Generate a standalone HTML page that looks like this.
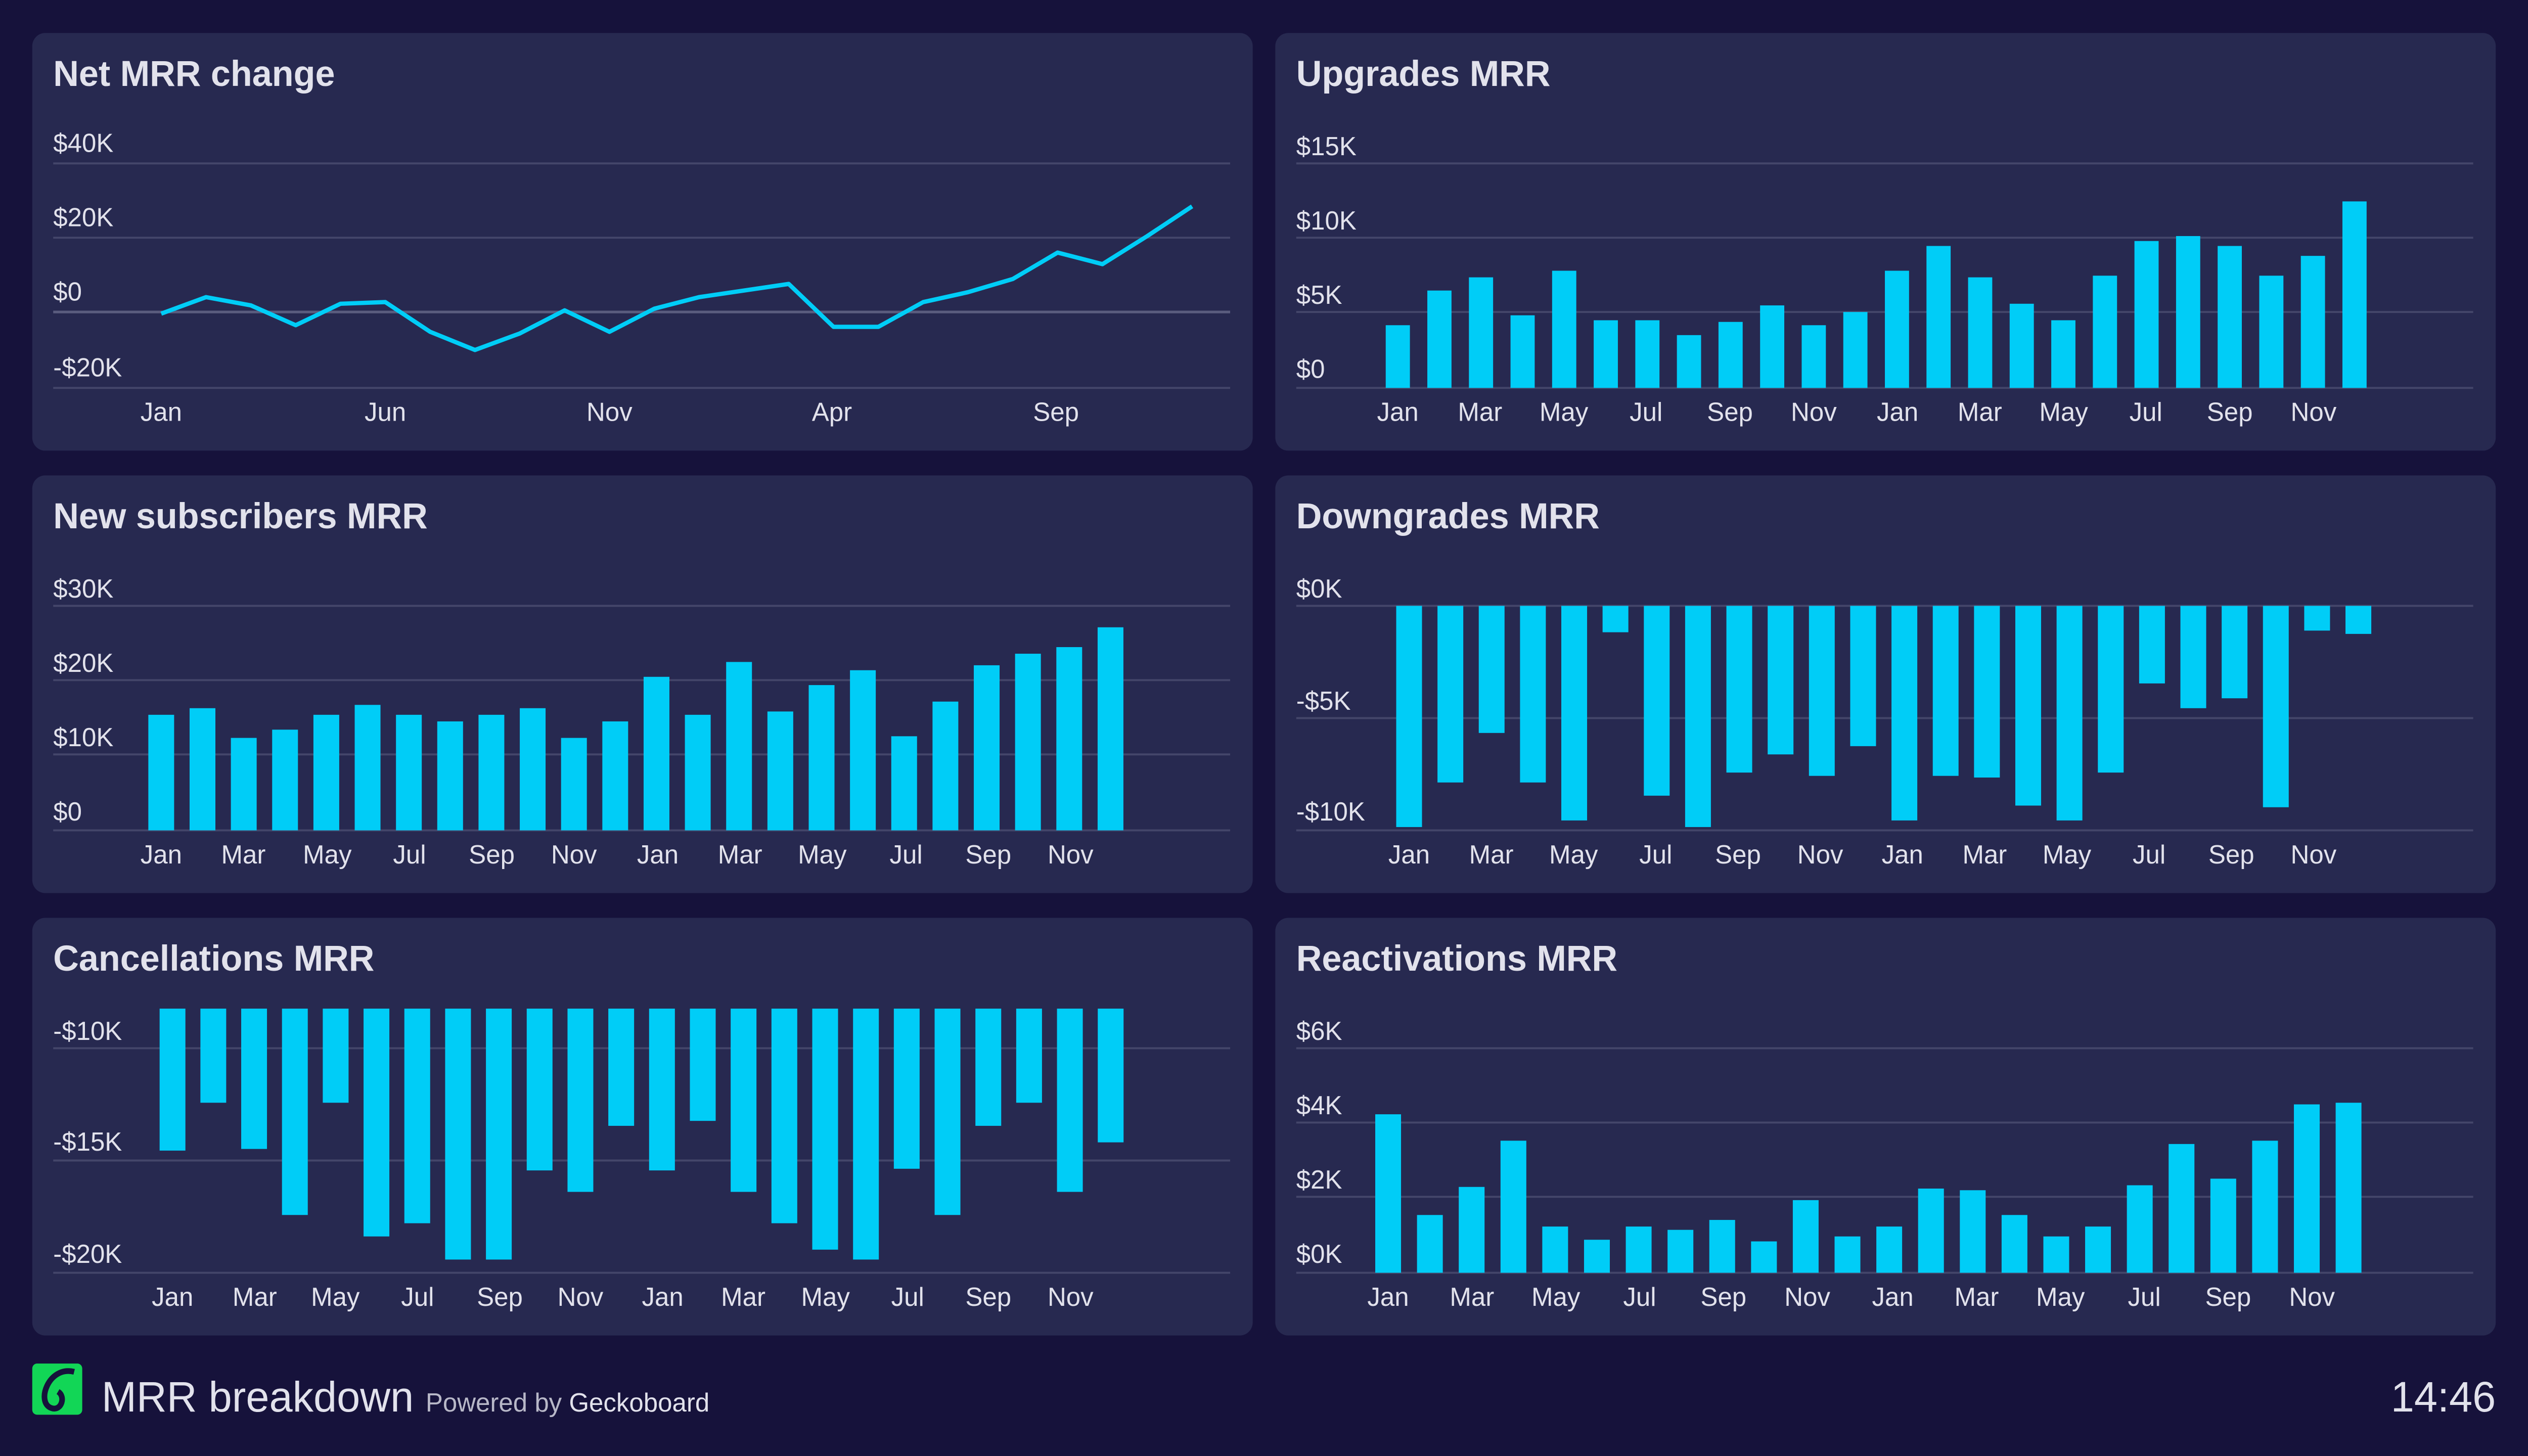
<!DOCTYPE html>
<html><head><meta charset="utf-8"><style>
html,body{margin:0;padding:0;background:#16123b;overflow:hidden;width:100%;height:100%;}
svg{display:block;position:fixed;left:0;top:0;width:100vw;height:100vh}
text{font-family:"Liberation Sans",sans-serif;fill:#e2e2ec}
.t{font-size:22px;font-weight:bold}
.a{font-size:16px}
.g{stroke:#44466a;stroke-width:1.2}
</style></head><body>
<svg id="s" viewBox="0 0 1568 882" preserveAspectRatio="none" xmlns="http://www.w3.org/2000/svg">
<rect width="1568" height="882" fill="#16123b"/>
<g fill="#272950">
<rect x="20" y="20" width="757" height="253" rx="8"/>
<rect x="791" y="20" width="757" height="253" rx="8"/>
<rect x="20" y="288" width="757" height="253" rx="8"/>
<rect x="791" y="288" width="757" height="253" rx="8"/>
<rect x="20" y="556" width="757" height="253" rx="8"/>
<rect x="791" y="556" width="757" height="253" rx="8"/>
</g>
<g class="g">
<line x1="33" x2="763" y1="99" y2="99"/><line x1="33" x2="763" y1="144" y2="144"/><line x1="33" x2="763" y1="235" y2="235"/>
<line x1="33" x2="763" y1="189" y2="189" style="stroke:#5a5c7e;stroke-width:1.6"/>
<line x1="804" x2="1534" y1="99" y2="99"/><line x1="804" x2="1534" y1="144" y2="144"/><line x1="804" x2="1534" y1="189" y2="189"/><line x1="804" x2="1534" y1="235" y2="235"/>
<line x1="33" x2="763" y1="367" y2="367"/><line x1="33" x2="763" y1="412" y2="412"/><line x1="33" x2="763" y1="457" y2="457"/><line x1="33" x2="763" y1="503" y2="503"/>
<line x1="804" x2="1534" y1="367" y2="367"/><line x1="804" x2="1534" y1="435" y2="435"/><line x1="804" x2="1534" y1="503" y2="503"/>
<line x1="33" x2="763" y1="635" y2="635"/><line x1="33" x2="763" y1="703" y2="703"/><line x1="33" x2="763" y1="771" y2="771"/>
<line x1="804" x2="1534" y1="635" y2="635"/><line x1="804" x2="1534" y1="680" y2="680"/><line x1="804" x2="1534" y1="725" y2="725"/><line x1="804" x2="1534" y1="771" y2="771"/>
</g>
<g id="bars" fill="#00cdf7"></g>
<polyline id="ln" fill="none" stroke="#00cdf7" stroke-width="2.6" stroke-linejoin="round"/>
<text class="t" x="33" y="52">Net MRR change</text>
<text class="t" x="804" y="52">Upgrades MRR</text>
<text class="t" x="33" y="320">New subscribers MRR</text>
<text class="t" x="804" y="320">Downgrades MRR</text>
<text class="t" x="33" y="588">Cancellations MRR</text>
<text class="t" x="804" y="588">Reactivations MRR</text>
<g class="a">
<text x="33" y="92">$40K</text><text x="33" y="137">$20K</text><text x="33" y="182">$0</text><text x="33" y="228">-$20K</text>
<text x="804" y="94">$15K</text><text x="804" y="139">$10K</text><text x="804" y="184">$5K</text><text x="804" y="229">$0</text>
<text x="33" y="362">$30K</text><text x="33" y="407">$20K</text><text x="33" y="452">$10K</text><text x="33" y="497">$0</text>
<text x="804" y="362">$0K</text><text x="804" y="430">-$5K</text><text x="804" y="497">-$10K</text>
<text x="33" y="630">-$10K</text><text x="33" y="697">-$15K</text><text x="33" y="765">-$20K</text>
<text x="804" y="630">$6K</text><text x="804" y="675">$4K</text><text x="804" y="720">$2K</text><text x="804" y="765">$0K</text>
</g>
<g class="a" text-anchor="middle">
<text x="100" y="255">Jan</text><text x="239" y="255">Jun</text><text x="378" y="255">Nov</text><text x="516" y="255">Apr</text><text x="655" y="255">Sep</text>
<text x="867" y="255">Jan</text><text x="918" y="255">Mar</text><text x="970" y="255">May</text><text x="1021" y="255">Jul</text><text x="1073" y="255">Sep</text><text x="1125" y="255">Nov</text><text x="1177" y="255">Jan</text><text x="1228" y="255">Mar</text><text x="1280" y="255">May</text><text x="1331" y="255">Jul</text><text x="1383" y="255">Sep</text><text x="1435" y="255">Nov</text>
<text x="100" y="523">Jan</text><text x="151" y="523">Mar</text><text x="203" y="523">May</text><text x="254" y="523">Jul</text><text x="305" y="523">Sep</text><text x="356" y="523">Nov</text><text x="408" y="523">Jan</text><text x="459" y="523">Mar</text><text x="510" y="523">May</text><text x="562" y="523">Jul</text><text x="613" y="523">Sep</text><text x="664" y="523">Nov</text>
<text x="874" y="523">Jan</text><text x="925" y="523">Mar</text><text x="976" y="523">May</text><text x="1027" y="523">Jul</text><text x="1078" y="523">Sep</text><text x="1129" y="523">Nov</text><text x="1180" y="523">Jan</text><text x="1231" y="523">Mar</text><text x="1282" y="523">May</text><text x="1333" y="523">Jul</text><text x="1384" y="523">Sep</text><text x="1435" y="523">Nov</text>
<text x="107" y="791">Jan</text><text x="158" y="791">Mar</text><text x="208" y="791">May</text><text x="259" y="791">Jul</text><text x="310" y="791">Sep</text><text x="360" y="791">Nov</text><text x="411" y="791">Jan</text><text x="461" y="791">Mar</text><text x="512" y="791">May</text><text x="563" y="791">Jul</text><text x="613" y="791">Sep</text><text x="664" y="791">Nov</text>
<text x="861" y="791">Jan</text><text x="913" y="791">Mar</text><text x="965" y="791">May</text><text x="1017" y="791">Jul</text><text x="1069" y="791">Sep</text><text x="1121" y="791">Nov</text><text x="1174" y="791">Jan</text><text x="1226" y="791">Mar</text><text x="1278" y="791">May</text><text x="1330" y="791">Jul</text><text x="1382" y="791">Sep</text><text x="1434" y="791">Nov</text>
</g>
<rect x="20" y="826" width="31" height="31" rx="3" fill="#12d656"/>
<path d="M46 831 C30 827 22 850 32 853 C38 855 41 846 36 843" fill="none" stroke="#16123b" stroke-width="3.5"/>
<text x="63" y="855" style="font-size:26px">MRR breakdown</text>
<text x="264" y="855" style="font-size:16px;fill:#b8b8c8">Powered by <tspan style="fill:#e2e2ec">Geckoboard</tspan></text>
<text x="1548" y="855" text-anchor="end" style="font-size:26px">14:46</text>
</svg>
<script>
var ns="http://www.w3.org/2000/svg",g=document.getElementById("bars");
function bars(x0,step,w,base,vals,down){vals.forEach(function(v,i){var r=document.createElementNS(ns,"rect");var x=x0+i*step-w/2;var y=down?base:v,h=down?v-base:base-v;r.setAttribute("x",x);r.setAttribute("y",y);r.setAttribute("width",w);r.setAttribute("height",h);g.appendChild(r);});}
bars(867,25.8,15,235,[197,176,168,191,164,194,194,203,195,185,197,189,164,149,168,184,194,167,146,143,149,167,155,122]);
bars(100,25.6,16,503,[433,429,447,442,433,427,433,437,433,429,447,437,410,433,401,431,415,406,446,425,403,396,392,380]);
bars(874,25.6,16,367,[501,474,444,474,497,383,482,501,468,457,470,452,497,470,471,488,497,468,414,429,423,489,382,384],true);
bars(107,25.3,16,611,[697,668,696,736,668,749,741,763,763,709,722,682,709,679,722,741,757,763,708,736,682,668,722,692],true);
bars(861,25.9,16,771,[675,736,719,691,743,751,743,745,739,752,727,749,743,720,721,736,749,743,718,693,714,691,669,668]);
var ys=[190,180,185,197,184,183,201,212,202,188,201,187,180,176,172,198,198,183,177,169,153,160,143,125];
document.getElementById("ln").setAttribute("points",ys.map(function(y,i){return (100+i*27.8)+","+y}).join(" "));
</script>
</body></html>
